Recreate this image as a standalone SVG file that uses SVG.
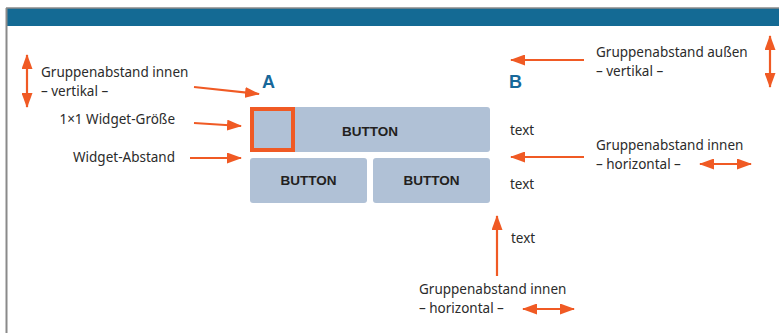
<svg xmlns="http://www.w3.org/2000/svg" width="779" height="333" viewBox="0 0 779 333">
<style>
.lbl{font-family:"Noto Sans","Liberation Sans",Arial,sans-serif;font-size:13.5px;fill:#2b2b2b}
.btn{fill:#b0c1d6}
.bt{font-family:"Liberation Sans",Arial,sans-serif;font-size:13.5px;font-weight:bold;fill:#231f20;text-anchor:middle}
.letter{font-family:"Liberation Sans",Arial,sans-serif;font-size:18px;font-weight:bold;fill:#17689a}
.ar{stroke:#f05a24;stroke-width:2.2;fill:none}
</style>
<defs>
<marker id="ah" viewBox="0 0 15 11" refX="14" refY="5.5" markerWidth="15" markerHeight="11" markerUnits="userSpaceOnUse" orient="auto-start-reverse">
<path d="M0,0 L15,5.5 L0,11 Z" fill="#f05a24"/>
</marker>
</defs>
<rect x="0" y="0" width="779" height="333" fill="#fff"/>
<g id="frame">
<rect x="6" y="8" width="773" height="18" fill="#146a94"/>
<line x1="6" y1="8" x2="779" y2="8" stroke="#8a8a8a" stroke-width="1.5"/>
<line x1="6.5" y1="8" x2="6.5" y2="333" stroke="#8a8a8a" stroke-width="2"/>
</g>
<g id="labelA"><text class="letter" x="262" y="88">A</text></g>
<g id="labelB"><text class="letter" x="509" y="88">B</text></g>
<g id="btn-top">
<rect class="btn" x="250" y="107" width="240" height="45" rx="3"/>
<text class="bt" x="370" y="136">BUTTON</text>
</g>
<g id="widget-1x1">
<rect x="252" y="109" width="41" height="41" fill="none" stroke="#f05a24" stroke-width="4"/>
</g>
<g id="btn-left">
<rect class="btn" x="250" y="158" width="117" height="45" rx="3"/>
<text class="bt" x="308.5" y="185">BUTTON</text>
</g>
<g id="btn-right">
<rect class="btn" x="373" y="158" width="117" height="45" rx="3"/>
<text class="bt" x="431.5" y="185">BUTTON</text>
</g>
<g id="texts">
<text class="lbl" x="510" y="135">text</text>
<text class="lbl" x="510" y="189">text</text>
<text class="lbl" x="511" y="243">text</text>
</g>
<g id="note-innen-vertikal">
<text class="lbl" x="41" y="77">Gruppenabstand innen</text>
<text class="lbl" x="41" y="96">– vertikal –</text>
</g>
<g id="note-widget-groesse">
<text class="lbl" x="175" y="124" text-anchor="end">1×1 Widget-Größe</text>
</g>
<g id="note-widget-abstand">
<text class="lbl" x="175" y="162" text-anchor="end">Widget-Abstand</text>
</g>
<g id="note-aussen-vertikal">
<text class="lbl" x="596" y="57">Gruppenabstand außen</text>
<text class="lbl" x="596" y="76">– vertikal –</text>
</g>
<g id="note-innen-horizontal-1">
<text class="lbl" x="596" y="150">Gruppenabstand innen</text>
<text class="lbl" x="596" y="169">– horizontal –</text>
</g>
<g id="note-innen-horizontal-2">
<text class="lbl" x="419" y="294">Gruppenabstand innen</text>
<text class="lbl" x="419" y="313">– horizontal –</text>
</g>
<g id="connectors">
<line class="ar" x1="27" y1="55" x2="27" y2="107" marker-start="url(#ah)" marker-end="url(#ah)"/>
<line class="ar" x1="194" y1="87" x2="259" y2="94" marker-end="url(#ah)"/>
<line class="ar" x1="194" y1="123" x2="241" y2="126" marker-end="url(#ah)"/>
<line class="ar" x1="190" y1="158" x2="241" y2="158" marker-end="url(#ah)"/>
<line class="ar" x1="584" y1="60" x2="511" y2="60" marker-end="url(#ah)"/>
<line class="ar" x1="770" y1="36" x2="770" y2="87" marker-start="url(#ah)" marker-end="url(#ah)"/>
<line class="ar" x1="584" y1="157" x2="511" y2="157" marker-end="url(#ah)"/>
<line class="ar" x1="700" y1="164" x2="751" y2="164" marker-start="url(#ah)" marker-end="url(#ah)"/>
<line class="ar" x1="497" y1="276" x2="497" y2="216" marker-end="url(#ah)"/>
<line class="ar" x1="523" y1="309" x2="574" y2="309" marker-start="url(#ah)" marker-end="url(#ah)"/>
</g>
</svg>
